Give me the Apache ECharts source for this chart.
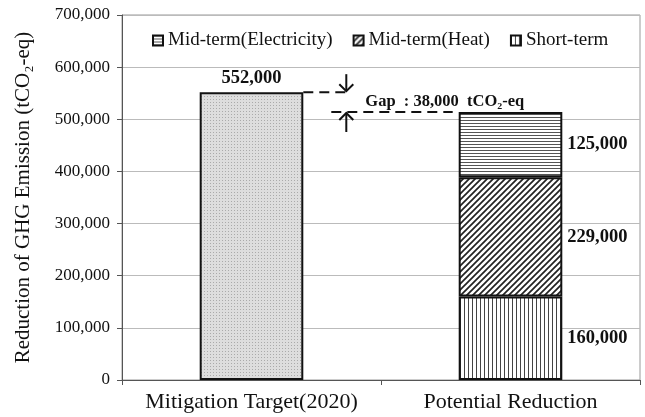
<!DOCTYPE html>
<html>
<head>
<meta charset="utf-8">
<script src="https://cdn.jsdelivr.net/npm/echarts@6/dist/echarts.min.js"></script>
<style>
html, body { margin: 0; padding: 0; background: #fff; }
#container { width: 645px; height: 417px; }
</style>
</head>
<body>
<div id="container"></div>
<script>
var categories = ['Mitigation Target(2020)', 'Potential Reduction'];
var targetValues = [552000, '-'];
var shortTerm = ['-', 160000];
var midHeat = ['-', 229000];
var midElec = ['-', 125000];
var yTicks = [0, 100000, 200000, 300000, 400000, 500000, 600000, 700000];

var serif = '"Liberation Serif", "Times New Roman", serif';

function fmt(v) {
    return String(v).replace(/\B(?=(\d{3})+(?!\d))/g, ',');
}

// little canvas tiles for the hatch fills
function tile(w, h, draw) {
    var c = document.createElement('canvas');
    c.width = w; c.height = h;
    var ctx = c.getContext('2d');
    ctx.fillStyle = '#fff';
    ctx.fillRect(0, 0, w, h);
    draw(ctx);
    return { image: c, repeat: 'repeat' };
}

var dotFill = tile(3, 3, function (ctx) {
    ctx.fillStyle = '#ddd';
    ctx.fillRect(0, 0, 3, 3);
    ctx.fillStyle = '#aaa';
    ctx.fillRect(0, 0, 1, 1);
});
var hLines = tile(4, 3, function (ctx) {
    ctx.fillStyle = '#555';
    ctx.fillRect(0, 0, 4, 1);
});
var diagLines = tile(6, 6, function (ctx) {
    ctx.strokeStyle = '#222';
    ctx.lineWidth = 1.7;
    ctx.beginPath();
    ctx.moveTo(-1, 7); ctx.lineTo(7, -1);
    ctx.moveTo(-4, 4); ctx.lineTo(4, -4);
    ctx.moveTo(2, 10); ctx.lineTo(10, 2);
    ctx.stroke();
});
var vLines = tile(4, 4, function (ctx) {
    ctx.fillStyle = '#444';
    ctx.fillRect(0, 0, 1, 4);
});

var dom = document.getElementById('container');
var myChart = echarts.init(dom);

var sideLabel = {
    show: true,
    position: 'right',
    distance: 5,
    fontFamily: serif,
    fontWeight: 'bold',
    fontSize: 18.5,
    color: '#111',
    formatter: function (p) { return fmt(p.value); }
};

function stackSeries(name, data, fill) {
    return {
        name: name,
        type: 'bar',
        stack: 'all',
        barWidth: '40%',
        data: data,
        itemStyle: { color: fill, borderColor: '#111', borderWidth: 2 },
        label: sideLabel
    };
}

var option = {
    animation: false,
    textStyle: { fontFamily: serif },
    grid: {
        left: 122, right: 5, top: 15, bottom: 37,
        show: true, borderColor: '#999', borderWidth: 1
    },
    legend: {
        top: 31,
        left: 152,
        padding: 0,
        itemWidth: 10,
        itemHeight: 10,
        itemGap: 20,
        icon: 'rect',
        textStyle: { fontFamily: serif, fontSize: 19, color: '#111' },
        itemStyle: { borderColor: '#111', borderWidth: 2 },
        data: ['Mid-term(Electricity)', 'Mid-term(Heat)', 'Short-term']
    },
    xAxis: {
        type: 'category',
        data: categories,
        axisLine: { lineStyle: { color: '#555', width: 1 } },
        axisTick: { show: true, length: 5, lineStyle: { color: '#555' } },
        axisLabel: { interval: 0, fontFamily: serif, fontSize: 22, color: '#111', margin: 11 }
    },
    yAxis: {
        type: 'value',
        min: 0,
        max: yTicks[yTicks.length - 1],
        interval: yTicks[1] - yTicks[0],
        name: 'Reduction of GHG Emission (tCO\u2082-eq)',
        nameLocation: 'middle',
        nameGap: 88,
        nameTextStyle: { fontFamily: serif, fontSize: 21, color: '#111' },
        axisLine: { show: true, lineStyle: { color: '#555', width: 1 } },
        axisTick: { show: true, length: 5, lineStyle: { color: '#555' } },
        axisLabel: { fontFamily: serif, fontSize: 17, color: '#111', margin: 12, formatter: fmt },
        splitLine: { lineStyle: { color: '#bbb', width: 1 } }
    },
    series: [
        {
            name: 'Mitigation Target',
            type: 'bar',
            stack: 'all',
            barWidth: '40%',
            data: targetValues,
            itemStyle: { color: dotFill, borderColor: '#111', borderWidth: 2 },
            label: {
                show: true,
                position: 'top',
                distance: 4,
                fontFamily: serif,
                fontWeight: 'bold',
                fontSize: 18.5,
                color: '#111',
                formatter: function (p) { return fmt(p.value); }
            }
        },
        stackSeries('Short-term', shortTerm, vLines),
        stackSeries('Mid-term(Heat)', midHeat, diagLines),
        stackSeries('Mid-term(Electricity)', midElec, hLines)
    ]
};

myChart.setOption(option, true);

// gap annotation between target and potential total
var target = targetValues[0];
var potential = shortTerm[1] + midHeat[1] + midElec[1];
var gap = target - potential;

var pTop = myChart.convertToPixel({ gridIndex: 0 }, [0, target]);
var pPot = myChart.convertToPixel({ gridIndex: 0 }, [1, potential]);
var bandW = pPot[0] - pTop[0];
var barHalf = bandW * 0.2;
var leftEdge = pTop[0] + barHalf;
var rightEdge = pPot[0] - barHalf;
var ax = leftEdge + 43;
var dash = { stroke: '#111', lineWidth: 2, lineDash: [10, 6] };
var solid = { stroke: '#111', lineWidth: 2 };

myChart.setOption({
    graphic: [
        { type: 'line', shape: { x1: leftEdge, y1: pTop[1], x2: ax + 4, y2: pTop[1] }, style: dash },
        { type: 'line', shape: { x1: ax - 15, y1: pPot[1], x2: rightEdge - 6, y2: pPot[1] }, style: dash },
        { type: 'line', shape: { x1: ax, y1: pTop[1] - 18, x2: ax, y2: pTop[1] - 1 }, style: solid },
        { type: 'polyline', shape: { points: [[ax - 7, pTop[1] - 8], [ax, pTop[1] - 1], [ax + 7, pTop[1] - 8]] }, style: solid },
        { type: 'line', shape: { x1: ax, y1: pPot[1] + 1, x2: ax, y2: pPot[1] + 20 }, style: solid },
        { type: 'polyline', shape: { points: [[ax - 7, pPot[1] + 8], [ax, pPot[1] + 1], [ax + 7, pPot[1] + 8]] }, style: solid },
        {
            type: 'text',
            x: ax + 19,
            y: (pTop[1] + pPot[1]) / 2,
            style: {
                text: 'Gap  : ' + fmt(gap) + '  tCO\u2082-eq',
                fontFamily: serif,
                fontWeight: 'bold',
                fontSize: 16.5,
                fill: '#111',
                verticalAlign: 'middle'
            }
        }
    ]
});
</script>
</body>
</html>
